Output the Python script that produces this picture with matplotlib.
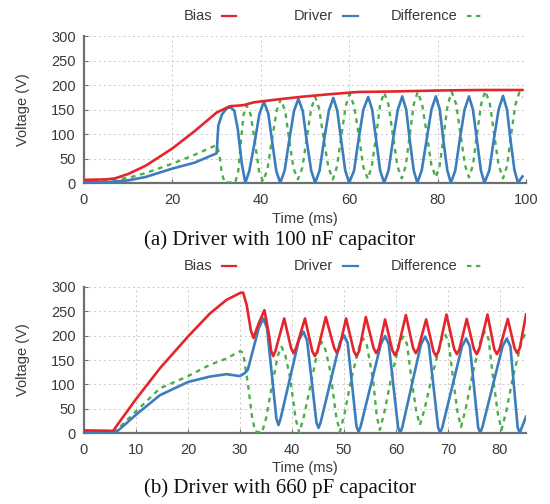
import matplotlib
matplotlib.use("Agg")
import matplotlib.pyplot as plt
from matplotlib.lines import Line2D

# ---------------- data: (a) 100 nF ----------------
a_bias_t = [0, 5, 7, 10, 14, 20, 25, 30, 33, 36, 38.5, 44, 49, 55, 62, 70, 80, 90, 99.2]
a_bias_v = [7, 8, 10, 19, 36, 71, 106, 144, 157, 159, 165, 171, 176, 181, 186, 187, 189, 190, 190]

a_drv_t = [0, 5, 10, 14, 20, 25, 30,
           30.4, 31.2, 32.2, 33.1, 34.0, 34.8, 35.7, 36.5,
           37.4, 38.6, 39.7, 40.7, 41.7, 42.6, 43.5, 44.4,
           45.4, 46.4, 47.5, 48.5, 49.5, 50.4, 51.4, 52.3,
           53.3, 54.3, 55.4, 56.4, 57.3, 58.2, 59.1, 60.0,
           61.1, 62.1, 63.2, 64.3, 65.2, 66.1, 67.0, 67.9,
           68.9, 69.9, 71.0, 72.0, 72.9, 73.7, 74.6, 75.4,
           76.4, 77.5, 78.6, 79.6, 80.5, 81.3, 82.2, 83.0,
           84.0, 85.0, 86.1, 87.1, 88.0, 88.9, 89.8, 90.6,
           91.7, 92.7, 93.8, 94.8, 95.7, 96.5, 97.4, 98.2, 99.2]
a_drv_v = [2, 2, 6, 13, 30, 42, 61,
           118, 140, 152, 155, 148, 110, 40, 1,
           25, 83, 142, 166, 142, 83, 25, 1,
           26, 86, 147, 172, 147, 86, 26, 1,
           26, 87, 148, 174, 148, 87, 26, 1,
           26, 88, 150, 176, 150, 88, 26, 1,
           26, 88, 150, 177, 150, 88, 26, 1,
           26, 88, 150, 177, 150, 88, 26, 1,
           26, 88, 150, 177, 150, 88, 26, 1,
           26, 88, 150, 178, 150, 88, 26, 1, 14]

a_dif_t = [0, 5, 10, 14, 20, 25, 30, 30.6, 31.2, 31.8, 34.2,
           34.9, 35.5, 36.1, 36.8, 37.7, 38.7, 39.6, 40.5,
           41.5, 42.5, 43.6, 44.5, 45.5, 46.4, 47.4, 48.4,
           49.4, 50.4, 51.4, 52.3, 53.2, 54.2, 55.3, 56.3,
           57.2, 58.2, 59.2, 60.1, 61.1, 62.2, 63.2, 64.2,
           65.1, 66.1, 67.0, 67.9, 68.9, 69.9, 70.9, 71.9,
           72.8, 73.7, 74.6, 75.5, 76.5, 77.6, 78.6, 79.6,
           80.5, 81.4, 82.3, 83.2, 84.2, 85.2, 86.2, 87.1,
           88.0, 88.9, 89.9, 90.8, 91.8, 92.8, 93.8, 94.8,
           95.7, 96.6, 97.6, 98.5, 99.2]
a_dif_v = [4, 5, 11, 21, 40, 58, 78, 60, 20, 2, 1,
           25, 85, 140, 159, 140, 82, 25, 4,
           28, 88, 148, 171, 148, 90, 30, 8,
           32, 92, 152, 176, 152, 92, 32, 8,
           33, 95, 157, 182, 158, 96, 33, 9,
           34, 97, 160, 185, 160, 97, 35, 10,
           36, 98, 161, 186, 161, 98, 37, 12,
           37, 99, 161, 186, 161, 99, 37, 12,
           37, 100, 163, 188, 163, 100, 37, 10,
           35, 97, 160, 185, 175]

# ---------------- data: (b) 660 pF ----------------
b_bias_t = [0, 5.6, 6.6, 10, 14.6, 20, 24.2, 27.4, 30, 30.6,
            31.3, 32.1, 32.6, 33.6, 34.7, 35.6, 36.0, 36.4, 36.8,
            38.5, 39.8, 40.3, 40.8, 42.5, 43.9, 44.4, 44.9,
            46.5, 48.1, 48.6, 49.1, 50.4, 51.9, 52.4, 52.9,
            54.2, 55.7, 56.2, 56.7, 57.9, 59.3, 59.8, 60.3,
            61.9, 63.3, 63.8, 64.3, 65.8, 67.2, 67.7, 68.2,
            69.7, 71.2, 71.7, 72.2, 73.6, 75.0, 75.5, 76.0,
            77.6, 78.9, 79.4, 79.9, 81.5, 82.8, 83.3, 83.8, 85]
b_bias_v = [6, 5, 20, 70, 133, 198, 245, 273, 287, 288,
            262, 210, 195, 225, 252, 200, 168, 158, 168,
            235, 175, 164, 175, 235, 168, 158, 168,
            238, 175, 165, 175, 235, 168, 158, 168,
            238, 174, 164, 174, 233, 170, 160, 170,
            242, 174, 164, 174, 233, 168, 158, 168,
            243, 172, 162, 172, 234, 172, 162, 172,
            243, 172, 162, 172, 234, 174, 164, 174, 243]

b_drv_t = [0, 5.6, 6.6, 10, 14.6, 20, 24.2, 27.4, 30, 31, 31.5,
           33.6, 34.5, 35.2, 37.0, 37.4, 37.8,
           41.3, 42.2, 42.9, 44.7, 45.1, 45.5,
           49.2, 50.0, 50.7, 52.4, 52.8, 53.2,
           57.1, 57.9, 58.6, 60.4, 60.8, 61.2,
           64.8, 65.6, 66.3, 68.1, 68.5, 68.9,
           72.7, 73.5, 74.2, 75.8, 76.2, 76.6,
           80.5, 81.3, 82.0, 83.4, 83.8, 84.2, 85]
b_drv_v = [2, 1, 6, 38, 78, 105, 116, 121, 117, 124, 130,
           215, 235, 215, 30, 17, 30,
           190, 208, 190, 22, 11, 22,
           185, 201, 185, 14, 3, 14,
           183, 199, 183, 12, 1, 12,
           182, 198, 182, 12, 1, 12,
           178, 194, 178, 12, 1, 12,
           178, 194, 178, 12, 1, 12, 34]

b_dif_t = [0, 5.6, 6.6, 10, 14.6, 20, 24.2, 27.4, 30, 30.6, 31.6, 32.3, 32.9, 34.2,
           35.0, 36.1, 37.3, 38.0, 38.7, 39.6, 40.7, 41.4,
           42.3, 43.5, 45.0, 45.7, 46.4, 47.3, 48.5, 49.2,
           50.1, 51.5, 53.0, 53.7, 54.4, 55.6, 56.3, 56.9,
           57.8, 59.2, 60.7, 61.4, 62.1, 63.0, 63.9, 64.6,
           65.5, 67.0, 68.7, 69.4, 70.1, 71.0, 71.8, 72.5,
           73.4, 74.8, 76.4, 77.1, 77.8, 78.7, 79.6, 80.3,
           81.2, 82.6, 84.2, 85.0]
b_dif_v = [3, 5, 10, 45, 92, 117, 140, 153, 168, 165, 95, 35, 4, 1,
           30, 95, 160, 177, 160, 116, 30, 1,
           35, 95, 172, 187, 172, 130, 35, 3,
           40, 116, 180, 194, 180, 109, 35, 7,
           45, 120, 185, 198, 183, 110, 45, 17,
           50, 120, 190, 203, 188, 110, 45, 13,
           50, 125, 195, 208, 193, 110, 40, 7,
           45, 120, 190, 207]

series_names = ["Bias", "Driver", "Difference"]
captions = ["(a) Driver with 100 nF capacitor", "(b) Driver with 660 pF capacitor"]
a_xticks = [0, 20, 40, 60, 80, 100]
b_xticks = [0, 10, 20, 30, 40, 50, 60, 70, 80]
yticks = [0, 50, 100, 150, 200, 250, 300]

# ---------------- style ----------------
RED = "#e4262c"
BLUE = "#3b7dbd"
GREEN = "#4cae48"
TXT = "#3a3a3a"
SANS = ["Liberation Sans", "DejaVu Sans"]
SERIF = ["Liberation Serif", "DejaVu Serif"]

W, H = 550, 504
fig = plt.figure(figsize=(W / 100, H / 100), dpi=100)

AX_L, AX_R = 84, 526


def px_axes(left, top, right, bottom):
    return fig.add_axes([left / W, 1 - bottom / H, (right - left) / W, (bottom - top) / H])


def style(ax, xmax, xticks, top, bottom, xlabel_y):
    ax.set_xlim(0, xmax)
    ax.set_ylim(0, 300)
    ax.set_xticks(xticks)
    ax.set_yticks(yticks)
    ax.grid(True, color="#c9c9c9", linestyle=(0, (2, 3)), linewidth=0.7)
    ax.set_axisbelow(True)
    for s in ("top", "right"):
        ax.spines[s].set_visible(False)
    for s in ("left", "bottom"):
        ax.spines[s].set_color("#707070")
        ax.spines[s].set_linewidth(1.6)
    ax.tick_params(axis="both", length=3, direction="in", color="#707070",
                   labelsize=10.5, labelcolor=TXT)
    ax.tick_params(axis="x", pad=7)
    ax.tick_params(axis="y", pad=6)
    for lab in ax.get_xticklabels() + ax.get_yticklabels():
        lab.set_family(SANS)
    ax.set_ylabel("Voltage (V)", fontsize=10.5, color=TXT, family=SANS, va="center")
    ax.set_xlabel("Time (ms)", fontsize=10.5, color=TXT, family=SANS, va="center")
    ax.yaxis.set_label_coords((22.7 - AX_L) / (AX_R - AX_L), 0.5)
    ax.xaxis.set_label_coords(0.5, (bottom - xlabel_y) / (bottom - top))


def legend(ypx):
    y = 1 - ypx / H
    items = [(series_names[0], 212, 222, 236, RED, "-"),
             (series_names[1], 333, 343, 358, BLUE, "-"),
             (series_names[2], 458, 467, 484, GREEN, (0, (2, 2)))]
    for name, tx, x1, x2, col, ls in items:
        fig.text(tx / W, y, name, ha="right", va="center", fontsize=10.5,
                 color=TXT, family=SANS)
        fig.add_artist(Line2D([x1 / W, x2 / W], [y, y], color=col, lw=1.6,
                              linestyle=ls, transform=fig.transFigure))


def draw(ax, dt, dv, rt, rv, bt, bv):
    ax.plot(dt, dv, color=GREEN, lw=1.7, linestyle=(0, (2, 2)), zorder=3)
    ax.plot(bt, bv, color=BLUE, lw=1.9, zorder=4, solid_joinstyle="round")
    ax.plot(rt, rv, color=RED, lw=1.9, zorder=5, solid_joinstyle="round")


ax1 = px_axes(AX_L, 36, AX_R, 183.3)
style(ax1, 100, a_xticks, 36, 183.3, 219)
draw(ax1, a_dif_t, a_dif_v, a_bias_t, a_bias_v, a_drv_t, a_drv_v)

ax2 = px_axes(AX_L, 286.7, AX_R, 433.3)
style(ax2, 85, b_xticks, 286.7, 433.3, 468)
draw(ax2, b_dif_t, b_dif_v, b_bias_t, b_bias_v, b_drv_t, b_drv_v)

legend(16)
legend(266)

fig.text(280 / W, 1 - 240 / H, captions[0], ha="center", va="center",
         fontsize=15, color="#111111", family=SERIF)
fig.text(280 / W, 1 - 488 / H, captions[1], ha="center", va="center",
         fontsize=15, color="#111111", family=SERIF)

fig.savefig("out.png", dpi=100)
